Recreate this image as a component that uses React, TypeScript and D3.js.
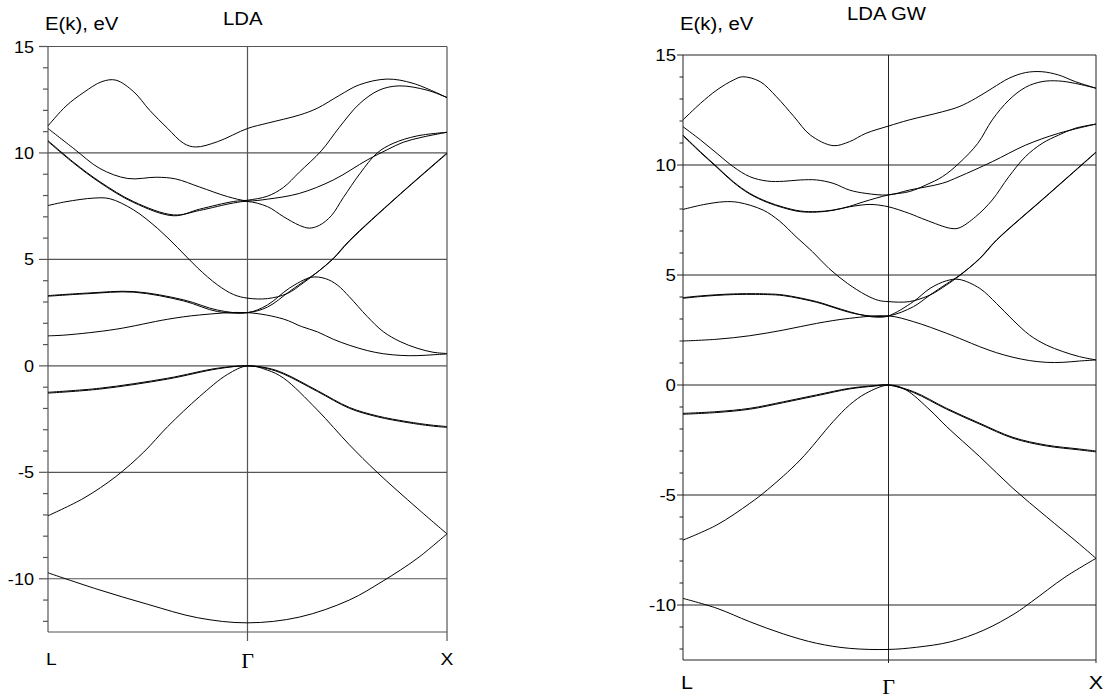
import React from 'react';
import * as d3 from 'd3';

type Pt = [number, number];

// k: 0 = L, 1 = Gamma, 2 = X ; E in eV

// ---- LDA panel ----
const ldaB1: Pt[] = [[0, -9.72], [0.25, -10.5], [0.5, -11.2], [0.75, -11.83], [1, -12.07], [1.26, -11.8], [1.51, -11.0], [1.68, -10.1], [1.85, -9.05], [2, -7.89]];
const ldaB2: Pt[] = [[0, -7.04], [0.18, -6.21], [0.34, -5.2], [0.48, -4.05], [0.6, -2.85], [0.76, -1.44], [0.9, -0.4], [1, 0], [1.1, -0.2], [1.18, -0.57], [1.35, -2.07], [1.51, -3.7], [1.65, -5.0], [1.85, -6.68], [2, -7.89]];
const ldaB3: Pt[] = [[0, -1.24], [0.26, -1.05], [0.6, -0.58], [0.85, -0.11], [1, 0], [1.1, -0.1], [1.18, -0.34], [1.35, -1.16], [1.51, -1.95], [1.65, -2.35], [1.8, -2.62], [1.92, -2.78], [2, -2.85]];
const ldaB4: Pt[] = [[0, -1.28], [0.26, -1.09], [0.6, -0.62], [0.85, -0.14], [1, 0], [1.1, -0.13], [1.18, -0.38], [1.35, -1.2], [1.51, -1.99], [1.65, -2.39], [1.8, -2.66], [1.92, -2.82], [2, -2.89]];
const ldaB5: Pt[] = [[0, 1.41], [0.09, 1.45], [0.34, 1.72], [0.6, 2.19], [0.76, 2.39], [1, 2.5], [1.18, 2.2], [1.27, 1.85], [1.35, 1.6], [1.43, 1.25], [1.51, 0.97], [1.6, 0.72], [1.68, 0.57], [1.77, 0.49], [1.85, 0.48], [1.93, 0.52], [2, 0.56]];
const ldaB6: Pt[] = [[0, 3.3], [0.2, 3.42], [0.43, 3.49], [0.68, 3.1], [0.85, 2.62], [1, 2.5], [1.1, 2.86], [1.21, 3.65], [1.32, 4.16], [1.39, 4.1], [1.45, 3.8], [1.51, 3.25], [1.6, 2.32], [1.68, 1.61], [1.765, 1.14], [1.85, 0.83], [1.93, 0.64], [2, 0.58]];
const ldaB7: Pt[] = [[0, 3.27], [0.2, 3.39], [0.43, 3.46], [0.68, 3.05], [0.85, 2.55], [1, 2.5], [1.1, 2.76], [1.21, 3.49], [1.3, 4.08], [1.35, 4.4], [1.43, 5.03], [1.51, 5.85], [1.75, 7.93], [2, 9.97]];
const ldaB8: Pt[] = [[0, 7.53], [0.09, 7.71], [0.23, 7.88], [0.31, 7.85], [0.43, 7.32], [0.55, 6.45], [0.65, 5.55], [0.75, 4.6], [0.85, 3.8], [0.93, 3.35], [1, 3.18], [1.1, 3.16], [1.2, 3.4], [1.28, 3.9], [1.35, 4.4], [1.43, 5.05], [1.51, 5.88], [1.75, 7.95], [2, 10.0]];
const ldaB9: Pt[] = [[0, 10.58], [0.13, 9.55], [0.26, 8.65], [0.43, 7.71], [0.63, 7.09], [0.76, 7.3], [0.93, 7.65], [1, 7.72], [1.1, 7.48], [1.18, 7.01], [1.26, 6.6], [1.31, 6.47], [1.36, 6.6], [1.42, 7.05], [1.48, 7.9], [1.565, 9.05], [1.65, 10.0], [1.73, 10.45], [1.85, 10.8], [2, 10.97]];
const ldaB10: Pt[] = [[0, 10.54], [0.13, 9.51], [0.26, 8.61], [0.43, 7.67], [0.63, 7.05], [0.76, 7.36], [0.93, 7.72], [1, 7.78], [1.1, 7.97], [1.18, 8.38], [1.26, 9.1], [1.37, 10.1], [1.46, 11.2], [1.56, 12.3], [1.66, 12.95], [1.76, 13.15], [1.9, 12.95], [2, 12.6]];
const ldaB11: Pt[] = [[0, 11.15], [0.13, 10.2], [0.26, 9.27], [0.4, 8.8], [0.545, 8.86], [0.64, 8.78], [0.76, 8.4], [0.9, 7.95], [1, 7.75], [1.1, 7.83], [1.26, 8.1], [1.43, 8.73], [1.6, 9.67], [1.7, 10.15], [1.78, 10.5], [1.88, 10.75], [2, 10.97]];
const ldaB12: Pt[] = [[0, 11.27], [0.09, 12.2], [0.18, 12.85], [0.27, 13.35], [0.34, 13.42], [0.43, 12.87], [0.51, 12.0], [0.6, 11.15], [0.68, 10.45], [0.74, 10.28], [0.85, 10.53], [1, 11.15], [1.1, 11.4], [1.26, 11.78], [1.35, 12.1], [1.46, 12.7], [1.56, 13.2], [1.7, 13.47], [1.83, 13.27], [2, 12.6]];
const ldaBands = [ldaB1, ldaB2, ldaB3, ldaB4, ldaB5, ldaB6, ldaB7, ldaB8, ldaB9, ldaB10, ldaB11, ldaB12];

// ---- LDA GW panel ----
const gwB1: Pt[] = [[0, -9.7], [0.165, -10.15], [0.325, -10.76], [0.49, -11.32], [0.65, -11.74], [0.81, -11.97], [1, -12.02], [1.136, -11.92], [1.3, -11.67], [1.46, -11.14], [1.61, -10.38], [1.69, -9.85], [1.85, -8.74], [2, -7.88]];
const gwB2: Pt[] = [[0, -7.05], [0.165, -6.36], [0.325, -5.38], [0.41, -4.77], [0.57, -3.41], [0.73, -1.67], [0.81, -0.91], [0.89, -0.38], [1, 0], [1.08, -0.2], [1.2, -1.14], [1.28, -1.89], [1.44, -3.26], [1.6, -4.7], [1.76, -5.98], [1.92, -7.23], [2, -7.88]];
const gwB3: Pt[] = [[0, -1.29], [0.165, -1.21], [0.325, -1.06], [0.49, -0.76], [0.65, -0.45], [0.81, -0.15], [0.93, -0.03], [1, 0], [1.12, -0.3], [1.28, -1.06], [1.44, -1.74], [1.6, -2.38], [1.76, -2.73], [1.92, -2.91], [2, -3.0]];
const gwB4: Pt[] = [[0, -1.33], [0.165, -1.25], [0.325, -1.1], [0.49, -0.8], [0.65, -0.49], [0.81, -0.18], [0.93, -0.05], [1, 0], [1.12, -0.34], [1.28, -1.1], [1.44, -1.78], [1.6, -2.42], [1.76, -2.77], [1.92, -2.95], [2, -3.04]];
const gwB5: Pt[] = [[0, 2.0], [0.165, 2.08], [0.325, 2.24], [0.49, 2.5], [0.65, 2.8], [0.81, 3.03], [1, 3.14], [1.12, 2.88], [1.28, 2.35], [1.36, 2.05], [1.44, 1.74], [1.52, 1.47], [1.6, 1.26], [1.68, 1.11], [1.76, 1.03], [1.84, 1.03], [1.92, 1.09], [2, 1.14]];
const gwB6: Pt[] = [[0, 3.97], [0.085, 4.05], [0.245, 4.14], [0.41, 4.14], [0.49, 4.09], [0.65, 3.79], [0.73, 3.56], [0.81, 3.33], [0.89, 3.14], [0.95, 3.08], [1, 3.14], [1.12, 3.79], [1.2, 4.39], [1.28, 4.74], [1.34, 4.8], [1.44, 4.39], [1.52, 3.71], [1.6, 2.95], [1.68, 2.27], [1.76, 1.82], [1.84, 1.52], [1.92, 1.29], [2, 1.14]];
const gwB7: Pt[] = [[0, 3.94], [0.085, 4.02], [0.245, 4.11], [0.41, 4.11], [0.49, 4.06], [0.65, 3.76], [0.73, 3.53], [0.81, 3.3], [0.89, 3.16], [1, 3.14], [1.12, 3.56], [1.2, 4.09], [1.28, 4.6], [1.34, 4.97], [1.44, 5.74], [1.52, 6.57], [1.76, 8.57], [2, 10.57]];
const gwB8: Pt[] = [[0, 7.98], [0.1, 8.2], [0.2, 8.33], [0.27, 8.3], [0.39, 7.95], [0.47, 7.45], [0.55, 6.74], [0.63, 6.06], [0.71, 5.3], [0.8, 4.62], [0.89, 4.09], [0.95, 3.85], [1, 3.79], [1.1, 3.79], [1.2, 4.09], [1.28, 4.55], [1.34, 4.95], [1.44, 5.76], [1.52, 6.59], [1.76, 8.59], [2, 10.59]];
const gwB9: Pt[] = [[0, 11.36], [0.085, 10.6], [0.165, 9.92], [0.245, 9.24], [0.325, 8.71], [0.41, 8.33], [0.49, 8.08], [0.57, 7.91], [0.65, 7.88], [0.73, 7.95], [0.81, 8.1], [0.89, 8.2], [0.93, 8.2], [1, 8.1], [1.1, 7.8], [1.18, 7.5], [1.3, 7.12], [1.34, 7.14], [1.42, 7.65], [1.5, 8.41], [1.58, 9.47], [1.66, 10.38], [1.74, 10.98], [1.82, 11.36], [1.9, 11.67], [2, 11.86]];
const gwB10: Pt[] = [[0, 11.33], [0.085, 10.57], [0.165, 9.89], [0.245, 9.21], [0.325, 8.68], [0.41, 8.3], [0.49, 8.05], [0.57, 7.88], [0.65, 7.86], [0.73, 7.94], [0.81, 8.12], [0.88, 8.33], [1, 8.64], [1.1, 8.79], [1.18, 9.09], [1.26, 9.47], [1.34, 10.08], [1.43, 10.98], [1.5, 12.05], [1.58, 12.95], [1.66, 13.53], [1.74, 13.79], [1.82, 13.82], [1.9, 13.71], [2, 13.49]];
const gwB11: Pt[] = [[0, 11.74], [0.085, 11.14], [0.165, 10.53], [0.245, 9.92], [0.325, 9.47], [0.41, 9.27], [0.49, 9.26], [0.57, 9.32], [0.65, 9.32], [0.73, 9.17], [0.81, 8.86], [0.89, 8.71], [1, 8.64], [1.1, 8.86], [1.26, 9.17], [1.34, 9.47], [1.5, 10.15], [1.66, 10.9], [1.82, 11.44], [2, 11.86]];
const gwB12: Pt[] = [[0, 12.05], [0.085, 12.8], [0.165, 13.41], [0.245, 13.86], [0.29, 14.01], [0.375, 13.79], [0.455, 13.1], [0.54, 12.2], [0.62, 11.36], [0.73, 10.88], [0.81, 11.06], [0.89, 11.44], [1, 11.77], [1.1, 12.05], [1.26, 12.42], [1.34, 12.65], [1.42, 13.03], [1.5, 13.49], [1.58, 13.94], [1.66, 14.2], [1.74, 14.24], [1.82, 14.09], [1.9, 13.79], [2, 13.49]];
const gwBands = [gwB1, gwB2, gwB3, gwB4, gwB5, gwB6, gwB7, gwB8, gwB9, gwB10, gwB11, gwB12];

const majorTicks = [15, 10, 5, 0, -5, -10];
const minorTicks = [14, 13, 12, 11, 9, 8, 7, 6, 4, 3, 2, 1, -1, -2, -3, -4, -6, -7, -8, -9, -11, -12];
const kPoints = [0, 1, 2];
const kLabels = ['L', '\u0393', 'X'];
const yDomain = [-12.5, 15];
const axisTitle = 'E(k), eV';

const SANS = '"Liberation Sans", Arial, Helvetica, sans-serif';
const SERIF = '"Liberation Serif", "Times New Roman", serif';
const SX = 1.13; // text in the original is a bit wide

type Layout = {
  x: [number, number, number];
  y: [number, number];
  title: string;
  titleX: number;
  titleY: number;
  axTitleX: number;
  axTitleY: number;
  labelRight: number;
  tickFont: number;
  majorLen: number;
  minorLen: number;
  bottomTick: number;
  kLabelY: number;
  gammaY: number;
  kFont: number;
  grid: string;
  gridW: number;
};

function Panel({ bands, L }: { bands: Pt[][]; L: Layout }) {
  const x = d3.scaleLinear().domain(kPoints).range(L.x);
  const y = d3.scaleLinear().domain(yDomain).range(L.y);
  const line = d3
    .line<Pt>()
    .x(d => x(d[0]))
    .y(d => y(d[1]))
    .curve(d3.curveCatmullRom.alpha(0.5));
  const x0 = x(0);
  const x2 = x(2);
  const yb = y(yDomain[0]);
  return (
    <g>
      {/* grid */}
      {majorTicks.map(t => (
        <line key={'h' + t} x1={x0} x2={x2} y1={y(t)} y2={y(t)} stroke={L.grid} strokeWidth={L.gridW} />
      ))}
      <line x1={x0} x2={x2} y1={yb} y2={yb} stroke={L.grid} strokeWidth={L.gridW} />
      {kPoints.map(k => (
        <line key={'v' + k} x1={x(k)} x2={x(k)} y1={y(15)} y2={k === 0 ? yb : yb + L.bottomTick} stroke={L.grid} strokeWidth={L.gridW} />
      ))}
      {/* y ticks */}
      {majorTicks.map(t => (
        <line key={'M' + t} x1={x0 - L.majorLen} x2={x0} y1={y(t)} y2={y(t)} stroke={L.grid} strokeWidth={L.gridW} />
      ))}
      {minorTicks.map(t => (
        <line key={'m' + t} x1={x0 - L.minorLen} x2={x0} y1={y(t)} y2={y(t)} stroke={L.grid} strokeWidth={L.gridW} />
      ))}
      {majorTicks.map(t => (
        <text key={'l' + t} transform={`translate(${L.labelRight},${y(t) + 6}) scale(${SX},1)`} textAnchor="end" fontFamily={SANS} fontSize={L.tickFont} fill="#000">
          {t}
        </text>
      ))}
      {/* bands */}
      {bands.map((b, i) => (
        <path key={'b' + i} d={line(b) || ''} fill="none" stroke="#000" strokeWidth={1} />
      ))}
      {/* titles */}
      <text transform={`translate(${L.axTitleX},${L.axTitleY}) scale(${SX},1)`} fontFamily={SANS} fontSize={18}>
        {axisTitle}
      </text>
      <text transform={`translate(${L.titleX},${L.titleY}) scale(${SX},1)`} fontFamily={SANS} fontSize={18}>
        {L.title}
      </text>
      {/* k labels */}
      {kPoints.map((k, i) =>
        i === 1 ? (
          <text key={'k' + i} x={x(k)} y={L.gammaY} textAnchor="middle" fontFamily={SERIF} fontSize={22}>
            {kLabels[i]}
          </text>
        ) : (
          <text
            key={'k' + i}
            transform={`translate(${i === 0 ? x(k) - 2 : x(k)},${L.kLabelY}) scale(${SX},1)`}
            textAnchor={i === 0 ? 'start' : 'middle'}
            fontFamily={SANS}
            fontSize={L.kFont}
          >
            {kLabels[i]}
          </text>
        )
      )}
    </g>
  );
}

const leftLayout: Layout = {
  x: [48, 247.5, 447],
  y: [632, 46.5],
  title: 'LDA',
  titleX: 223,
  titleY: 25,
  axTitleX: 45,
  axTitleY: 30,
  labelRight: 34,
  tickFont: 16,
  majorLen: 9,
  minorLen: 5,
  bottomTick: 9,
  kLabelY: 665,
  gammaY: 668,
  kFont: 17,
  grid: '#555',
  gridW: 1.2,
};

const rightLayout: Layout = {
  x: [683, 888.5, 1096],
  y: [660, 55],
  title: 'LDA GW',
  titleX: 847,
  titleY: 20,
  axTitleX: 680,
  axTitleY: 30,
  labelRight: 676,
  tickFont: 16.5,
  majorLen: 6,
  minorLen: 3.5,
  bottomTick: 3,
  kLabelY: 689,
  gammaY: 694,
  kFont: 19,
  grid: '#222',
  gridW: 1,
};

export default function App() {
  return (
    <div style={{ position: 'absolute', left: 0, top: 0 }}>
      <svg width={1108} height={698} style={{ display: 'block', background: '#fff' }}>
        <Panel bands={ldaBands} L={leftLayout} />
        <Panel bands={gwBands} L={rightLayout} />
      </svg>
    </div>
  );
}
